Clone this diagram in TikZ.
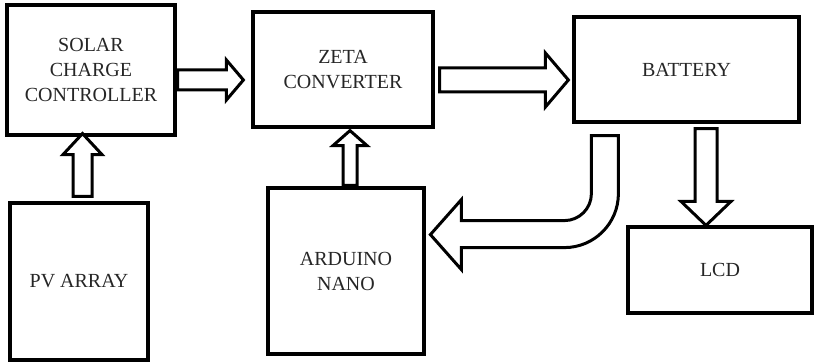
\documentclass[tikz,border=0pt]{standalone}
\usepackage{fontspec}
\setmainfont{Liberation Serif}
\usetikzlibrary{calc}
\tikzset{
  box/.style={draw, line width=3.2pt, align=center, inner sep=0pt,
    font=\fontsize{20}{25}\selectfont, text=black!85},
  blk/.style={draw, line width=3pt, fill=white, line join=miter},
}
% right-pointing block arrow: tail, tip, shaft half width, head half width, head length
\newcommand\rblk[5]{\draw[blk] ($(#1)+(0,-#3)$) -- ($(#2)+(-#5,-#3)$) -- ($(#2)+(-#5,-#4)$) -- (#2) -- ($(#2)+(-#5,#4)$) -- ($(#2)+(-#5,#3)$) -- ($(#1)+(0,#3)$) -- cycle;}
% vertical block arrow (sign: -1 up, +1 down in picture coordinates)
\newcommand\vblk[6]{\draw[blk] ($(#1)+(-#3,0)$) -- ($(#2)+(-#3,-#6*#5)$) -- ($(#2)+(-#4,-#6*#5)$) -- (#2) -- ($(#2)+(#4,-#6*#5)$) -- ($(#2)+(#3,-#6*#5)$) -- ($(#1)+(#3,0)$) -- cycle;}
\begin{document}
\begin{tikzpicture}[x=1pt,y=-1pt]
\useasboundingbox (0,0) rectangle (816,363);
\node[box, minimum width=168pt, minimum height=130pt] (solar) at (91,70) {SOLAR\\CHARGE\\CONTROLLER};
\node[box, minimum width=180pt, minimum height=115pt] (zeta) at (343,69.5) {ZETA\\CONVERTER};
\node[box, minimum width=225pt, minimum height=105pt] (battery) at (686.5,69.5) {BATTERY};
\node[box, minimum width=138pt, minimum height=157pt] (pv) at (79,281.5) {PV ARRAY};
\node[box, minimum width=156pt, minimum height=166pt] (arduino) at (346,271) {ARDUINO\\NANO};
\node[box, minimum width=184pt, minimum height=86pt] (lcd) at (720,270) {LCD};

\coordinate (a1) at ($(solar.east)+(1,10)$);
\coordinate (b1) at ($(zeta.west)+(-8,10.5)$);
\rblk{a1}{b1}{10}{20}{17}

\coordinate (a2) at ($(zeta.east)+(5,10.5)$);
\coordinate (b2) at ($(battery.west)+(-4,10.5)$);
\rblk{a2}{b2}{12}{27}{23}

\coordinate (a3) at ($(pv.north)+(3.5,-5)$);
\coordinate (b3) at ($(solar.south)+(-8.5,-3)$);
\vblk{a3}{b3}{9.5}{19.5}{21}{-1}

\coordinate (a4) at ($(arduino.north)+(4,-1)$);
\coordinate (b4) at ($(zeta.south)+(7,2)$);
\vblk{a4}{b4}{7}{17}{15}{-1}

\coordinate (a5) at ($(battery.south)+(19.5,5)$);
\coordinate (b5) at ($(lcd.north)+(-14,0)$);
\vblk{a5}{b5}{11}{25}{24}{1}

\coordinate (a6) at ($(battery.south west)+(19,12)$);
\draw[blk] (a6) -- ++(27,0) -- ++(0,58) arc(0:90:54) -- ++(-103,0) -- ++(0,22)
  -- ++(-31,-35) -- ++(31,-35) -- ++(0,21) -- ++(103,0) arc(90:0:27) -- cycle;
\end{tikzpicture}
\end{document}
